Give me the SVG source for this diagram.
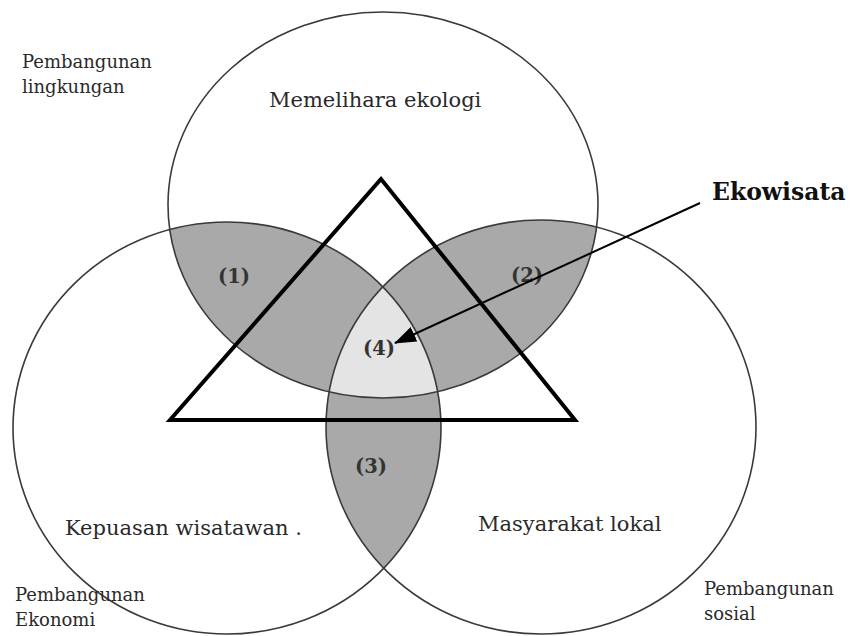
<svg xmlns="http://www.w3.org/2000/svg" width="850" height="636" viewBox="0 0 850 636">
<style>
.c{fill:none;stroke:#3a3a3a;stroke-width:1.6}
.g{fill:#a9a9a9}
.lt{fill:#e4e4e4}
.t{font-family:"DejaVu Serif","Liberation Serif",serif;fill:#2a2a2a}
.s{font-size:18px}
.m{font-size:21px}
.n{font-size:19.5px;font-weight:bold;fill:#333}
.b{font-size:23.5px;font-weight:bold;fill:#111}
</style>
<defs>
<clipPath id="cT"><ellipse cx="383" cy="205" rx="215" ry="193"/></clipPath>
<clipPath id="cL"><ellipse cx="227" cy="428" rx="214" ry="206"/></clipPath>
<clipPath id="cR"><ellipse cx="541" cy="427" rx="215" ry="207"/></clipPath>
<marker id="ah2" viewBox="0 0 22 16" refX="21" refY="8" markerWidth="22" markerHeight="16" orient="auto" markerUnits="userSpaceOnUse">
<path d="M0,0 L22,8 L0,16 Z" fill="#000"/>
</marker>
</defs>
<rect width="850" height="636" fill="#fff"/>
<g id="overlaps">
<ellipse class="g" cx="227" cy="428" rx="214" ry="206" clip-path="url(#cT)"/>
<ellipse class="g" cx="541" cy="427" rx="215" ry="207" clip-path="url(#cT)"/>
<ellipse class="g" cx="541" cy="427" rx="215" ry="207" clip-path="url(#cL)"/>
<g clip-path="url(#cT)"><ellipse class="lt" cx="541" cy="427" rx="215" ry="207" clip-path="url(#cL)"/></g>
</g>
<g id="lingkungan">
<ellipse class="c" cx="383" cy="205" rx="215" ry="193"/>
<text class="t m" x="269" y="107">Memelihara ekologi</text>
<text class="t s" x="22" y="68">Pembangunan</text>
<text class="t s" x="22" y="93">lingkungan</text>
</g>
<g id="ekonomi">
<ellipse class="c" cx="227" cy="428" rx="214" ry="206"/>
<text class="t m" x="65" y="535">Kepuasan wisatawan .</text>
<text class="t s" x="15" y="601">Pembangunan</text>
<text class="t s" x="15" y="626">Ekonomi</text>
</g>
<g id="sosial">
<ellipse class="c" cx="541" cy="427" rx="215" ry="207"/>
<text class="t m" x="478" y="531">Masyarakat lokal</text>
<text class="t s" x="704" y="595">Pembangunan</text>
<text class="t s" x="704" y="620">sosial</text>
</g>
<g id="triangle">
<polygon points="381,179 170,420 575,420" fill="none" stroke="#000" stroke-width="4" stroke-linejoin="miter"/>
</g>
<g id="labels">
<text class="t n" x="234" y="283" text-anchor="middle">(1)</text>
<text class="t n" x="527" y="282" text-anchor="middle">(2)</text>
<text class="t n" x="371" y="473" text-anchor="middle">(3)</text>
<text class="t n" x="379" y="355" text-anchor="middle">(4)</text>
</g>
<g id="connectors">
<line x1="700" y1="203" x2="395" y2="343" stroke="#000" stroke-width="2" marker-end="url(#ah2)"/>
</g>
<g id="ekowisata">
<text class="t b" x="712" y="200">Ekowisata</text>
</g>
</svg>
